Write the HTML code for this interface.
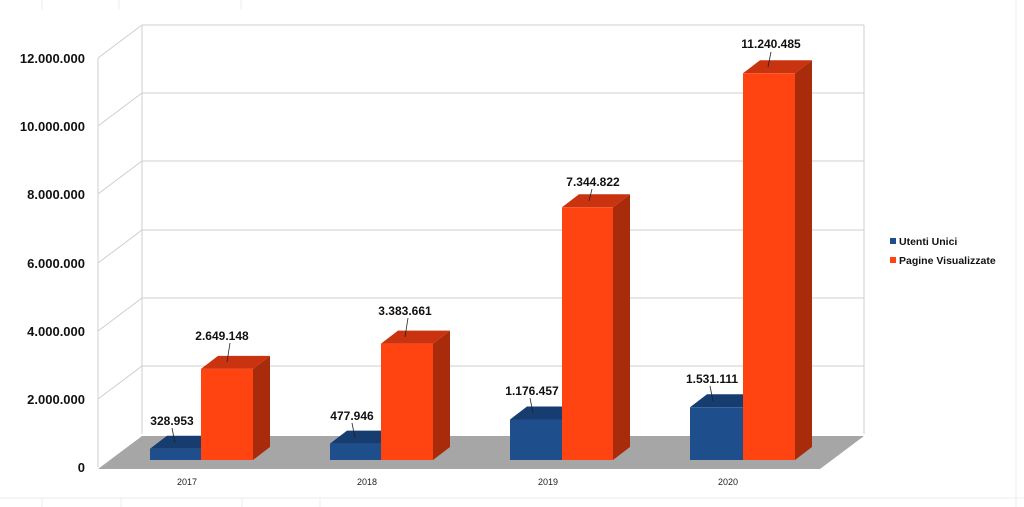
<!DOCTYPE html>
<html><head><meta charset="utf-8"><style>
html,body{margin:0;padding:0;background:#fff;}
svg{display:block;font-family:"Liberation Sans",sans-serif;}
.yl{font-size:13px;font-weight:bold;fill:#111;text-anchor:end;}
.vl{font-size:12px;font-weight:bold;fill:#111;text-anchor:middle;}
.cl{font-size:9px;fill:#222;text-anchor:middle;}
</style></head><body>
<svg width="1024" height="507" viewBox="0 0 1024 507">
<!-- faint sheet lines -->
<g stroke="#ececec" stroke-width="1">
<line x1="42" y1="0" x2="42" y2="10"/><line x1="119" y1="0" x2="119" y2="10"/><line x1="241" y1="0" x2="241" y2="10"/>
<line x1="42" y1="497" x2="42" y2="507"/><line x1="121" y1="497" x2="121" y2="507"/><line x1="242" y1="497" x2="242" y2="507"/><line x1="320" y1="497" x2="320" y2="507"/>
<line x1="0" y1="498" x2="1024" y2="498"/>
<line x1="1016" y1="0" x2="1016" y2="507"/>
</g>
<!-- back wall & gridlines -->
<g stroke="#cfcfcf" stroke-width="1" fill="none">
<line x1="142" y1="25" x2="142" y2="434"/>
<line x1="864" y1="25" x2="864" y2="434"/>
<line x1="98" y1="58" x2="98" y2="467"/>
<line x1="142" y1="25" x2="864" y2="25"/><line x1="98" y1="58" x2="142" y2="25"/>
<line x1="142" y1="93" x2="864" y2="93"/><line x1="98" y1="126" x2="142" y2="93"/>
<line x1="142" y1="161" x2="864" y2="161"/><line x1="98" y1="194" x2="142" y2="161"/>
<line x1="142" y1="230" x2="864" y2="230"/><line x1="98" y1="263" x2="142" y2="230"/>
<line x1="142" y1="298" x2="864" y2="298"/><line x1="98" y1="331" x2="142" y2="298"/>
<line x1="142" y1="366" x2="864" y2="366"/><line x1="98" y1="399" x2="142" y2="366"/>
</g>
<!-- floor -->
<polygon points="98,469 820,469 864,436 142,436" fill="#a6a6a6"/>
<!-- y labels -->
<text class="yl" x="85" y="63">12.000.000</text>
<text class="yl" x="85" y="131">10.000.000</text>
<text class="yl" x="85" y="199">8.000.000</text>
<text class="yl" x="85" y="268">6.000.000</text>
<text class="yl" x="85" y="336">4.000.000</text>
<text class="yl" x="85" y="404">2.000.000</text>
<text class="yl" x="85" y="472">0</text>
<!-- bars -->
<g>
<!-- 2017 -->
<polygon points="150,448.7 167,435.7 218,435.7 201,448.7" fill="#173d70"/><rect x="150" y="448.7" width="51" height="11.3" fill="#1f4e8c"/>
<polygon points="201,368.9 218,355.9 270,355.9 253,368.9" fill="#c93310"/><polygon points="253,368.9 270,355.9 270,447 253,460" fill="#a82c0c"/><rect x="201" y="368.9" width="52" height="91.1" fill="#ff4411"/>
<!-- 2018 -->
<polygon points="330,443.6 347,430.6 398,430.6 381,443.6" fill="#173d70"/><rect x="330" y="443.6" width="51" height="16.4" fill="#1f4e8c"/>
<polygon points="381,343.6 398,330.6 450,330.6 433,343.6" fill="#c93310"/><polygon points="433,343.6 450,330.6 450,447 433,460" fill="#a82c0c"/><rect x="381" y="343.6" width="52" height="116.4" fill="#ff4411"/>
<!-- 2019 -->
<polygon points="510,419.5 527,406.5 579,406.5 562,419.5" fill="#173d70"/><rect x="510" y="419.5" width="52" height="40.5" fill="#1f4e8c"/>
<polygon points="562,207.3 579,194.3 630,194.3 613,207.3" fill="#c93310"/><polygon points="613,207.3 630,194.3 630,447 613,460" fill="#a82c0c"/><rect x="562" y="207.3" width="51" height="252.7" fill="#ff4411"/>
<!-- 2020 -->
<polygon points="690,407.3 707,394.3 760,394.3 743,407.3" fill="#173d70"/><rect x="690" y="407.3" width="53" height="52.7" fill="#1f4e8c"/>
<polygon points="743,73.3 760,60.3 812,60.3 795,73.3" fill="#c93310"/><polygon points="795,73.3 812,60.3 812,447 795,460" fill="#a82c0c"/><rect x="743" y="73.3" width="52" height="386.7" fill="#ff4411"/>
</g>
<!-- value labels -->
<g stroke="#222" stroke-width="0.8">
<line x1="172" y1="428" x2="175" y2="443"/>
<line x1="230" y1="343" x2="227" y2="362"/>
<line x1="352" y1="423" x2="355" y2="438"/>
<line x1="408" y1="318" x2="405" y2="337"/>
<line x1="530" y1="398" x2="533" y2="413"/>
<line x1="592" y1="189" x2="589" y2="201"/>
<line x1="710" y1="386" x2="713" y2="401"/>
<line x1="771" y1="52" x2="768" y2="67"/>
</g>
<text class="vl" x="172" y="425">328.953</text>
<text class="vl" x="222" y="340">2.649.148</text>
<text class="vl" x="352" y="420">477.946</text>
<text class="vl" x="405" y="315">3.383.661</text>
<text class="vl" x="532" y="395">1.176.457</text>
<text class="vl" x="593" y="186">7.344.822</text>
<text class="vl" x="712" y="383">1.531.111</text>
<text class="vl" x="771" y="48">11.240.485</text>
<!-- categories -->
<text class="cl" x="187" y="485">2017</text>
<text class="cl" x="367" y="485">2018</text>
<text class="cl" x="548" y="485">2019</text>
<text class="cl" x="728" y="485">2020</text>
<!-- legend -->
<rect x="890" y="238" width="6" height="6" fill="#1f4e8c"/>
<text x="899" y="245" font-size="10.5" font-weight="bold" fill="#111">Utenti Unici</text>
<rect x="890" y="257" width="6" height="6" fill="#ff4411"/>
<text x="899" y="264" font-size="10.5" font-weight="bold" fill="#111">Pagine Visualizzate</text>
</svg>
</body></html>
